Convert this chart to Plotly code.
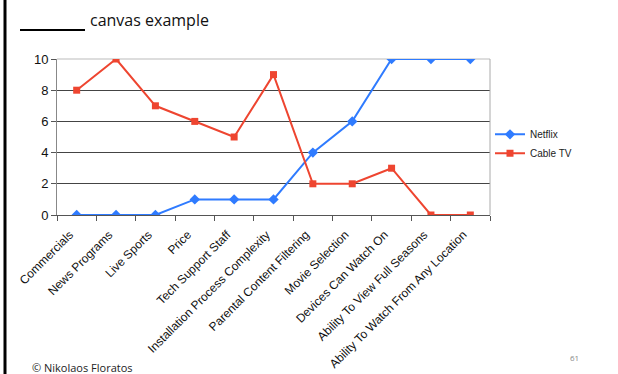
import plotly.graph_objects as go

categories = ["Commercials", "News Programs", "Live Sports", "Price", "Tech Support Staff",
              "Installation Process Complexity", "Parental Content Filtering", "Movie Selection",
              "Devices Can Watch On", "Ability To View Full Seasons", "Ability To Watch From Any Location"]
netflix = [0, 0, 0, 1, 1, 1, 4, 6, 10, 10, 10]
cable_tv = [8, 10, 7, 6, 5, 9, 2, 2, 3, 0, 0]
y_ticks = [0, 2, 4, 6, 8, 10]

W, H = 618, 374
L, R, T, B = 57, 490, 59, 215

fig = go.Figure()
fig.add_trace(go.Scatter(x=categories, y=netflix, name="Netflix", mode="lines+markers",
                         line=dict(color="#2F7BFF", width=2),
                         marker=dict(symbol="diamond", size=8, color="#2F7BFF")))
fig.add_trace(go.Scatter(x=categories, y=cable_tv, name="Cable TV", mode="lines+markers",
                         line=dict(color="#EE4530", width=2),
                         marker=dict(symbol="square", size=7, color="#EE4530")))

fig.update_layout(
    width=W, height=H,
    margin=dict(l=L, r=W - R, t=T, b=H - B, pad=0, autoexpand=False),
    paper_bgcolor="white", plot_bgcolor="white",
    font=dict(family="Liberation Sans, Arial", color="#111"),
    showlegend=True,
    legend=dict(x=1.0, y=0.61, xanchor="left", yanchor="top",
                font=dict(size=10, color="#222"), bgcolor="rgba(0,0,0,0)",
                itemwidth=30, tracegroupgap=0),
    xaxis=dict(type="category", range=[-0.5, 10.5], tickangle=-45, automargin=False,
               tickfont=dict(size=12, color="#111"), ticklabelstandoff=7, ticklabelshift=-7,
               showgrid=False, ticks="outside", tickson="boundaries", ticklen=5,
               tickcolor="#555", showline=True, linecolor="#555", linewidth=1,
               mirror=False, zeroline=False),
    yaxis=dict(range=[0, 10], tickvals=y_ticks, tickfont=dict(size=13, color="#111"),
               automargin=False,
               showgrid=True, gridcolor="#444", gridwidth=1,
               ticks="outside", ticklen=5, tickcolor="#555",
               showline=True, linecolor="#888", linewidth=1, zeroline=False),
    shapes=[
        dict(type="line", xref="paper", yref="paper", x0=0, x1=1, y0=1, y1=1,
             line=dict(color="#BBBBBB", width=1), layer="below"),
        dict(type="line", xref="paper", yref="paper", x0=1, x1=1, y0=0, y1=1,
             line=dict(color="#AAAAAA", width=1)),
        dict(type="line", xref="paper", yref="paper",
             x0=(5 - L) / (R - L), x1=(5 - L) / (R - L),
             y0=(B - 0) / (B - T), y1=(B - H) / (B - T),
             line=dict(color="black", width=3)),
        dict(type="line", xref="paper", yref="paper",
             x0=(20 - L) / (R - L), x1=(85 - L) / (R - L),
             y0=(B - 30) / (B - T), y1=(B - 30) / (B - T),
             line=dict(color="black", width=2)),
    ],
    annotations=[
        dict(text="canvas example", xref="paper", yref="paper",
             x=(88 - L) / (R - L), y=(B - 20) / (B - T), xanchor="left", yanchor="middle",
             showarrow=False, font=dict(family="Open Sans, Liberation Sans", size=16, color="#111")),
        dict(text="© Nikolaos Floratos", xref="paper", yref="paper",
             x=(30 - L) / (R - L), y=(B - 367) / (B - T), xanchor="left", yanchor="middle",
             showarrow=False, font=dict(family="Open Sans, Liberation Sans", size=11, color="#222")),
        dict(text="61", xref="paper", yref="paper",
             x=(568 - L) / (R - L), y=(B - 357) / (B - T), xanchor="left", yanchor="middle",
             showarrow=False, font=dict(family="Open Sans, Liberation Sans", size=8, color="#888")),
    ],
)

fig.write_html("out.html")
